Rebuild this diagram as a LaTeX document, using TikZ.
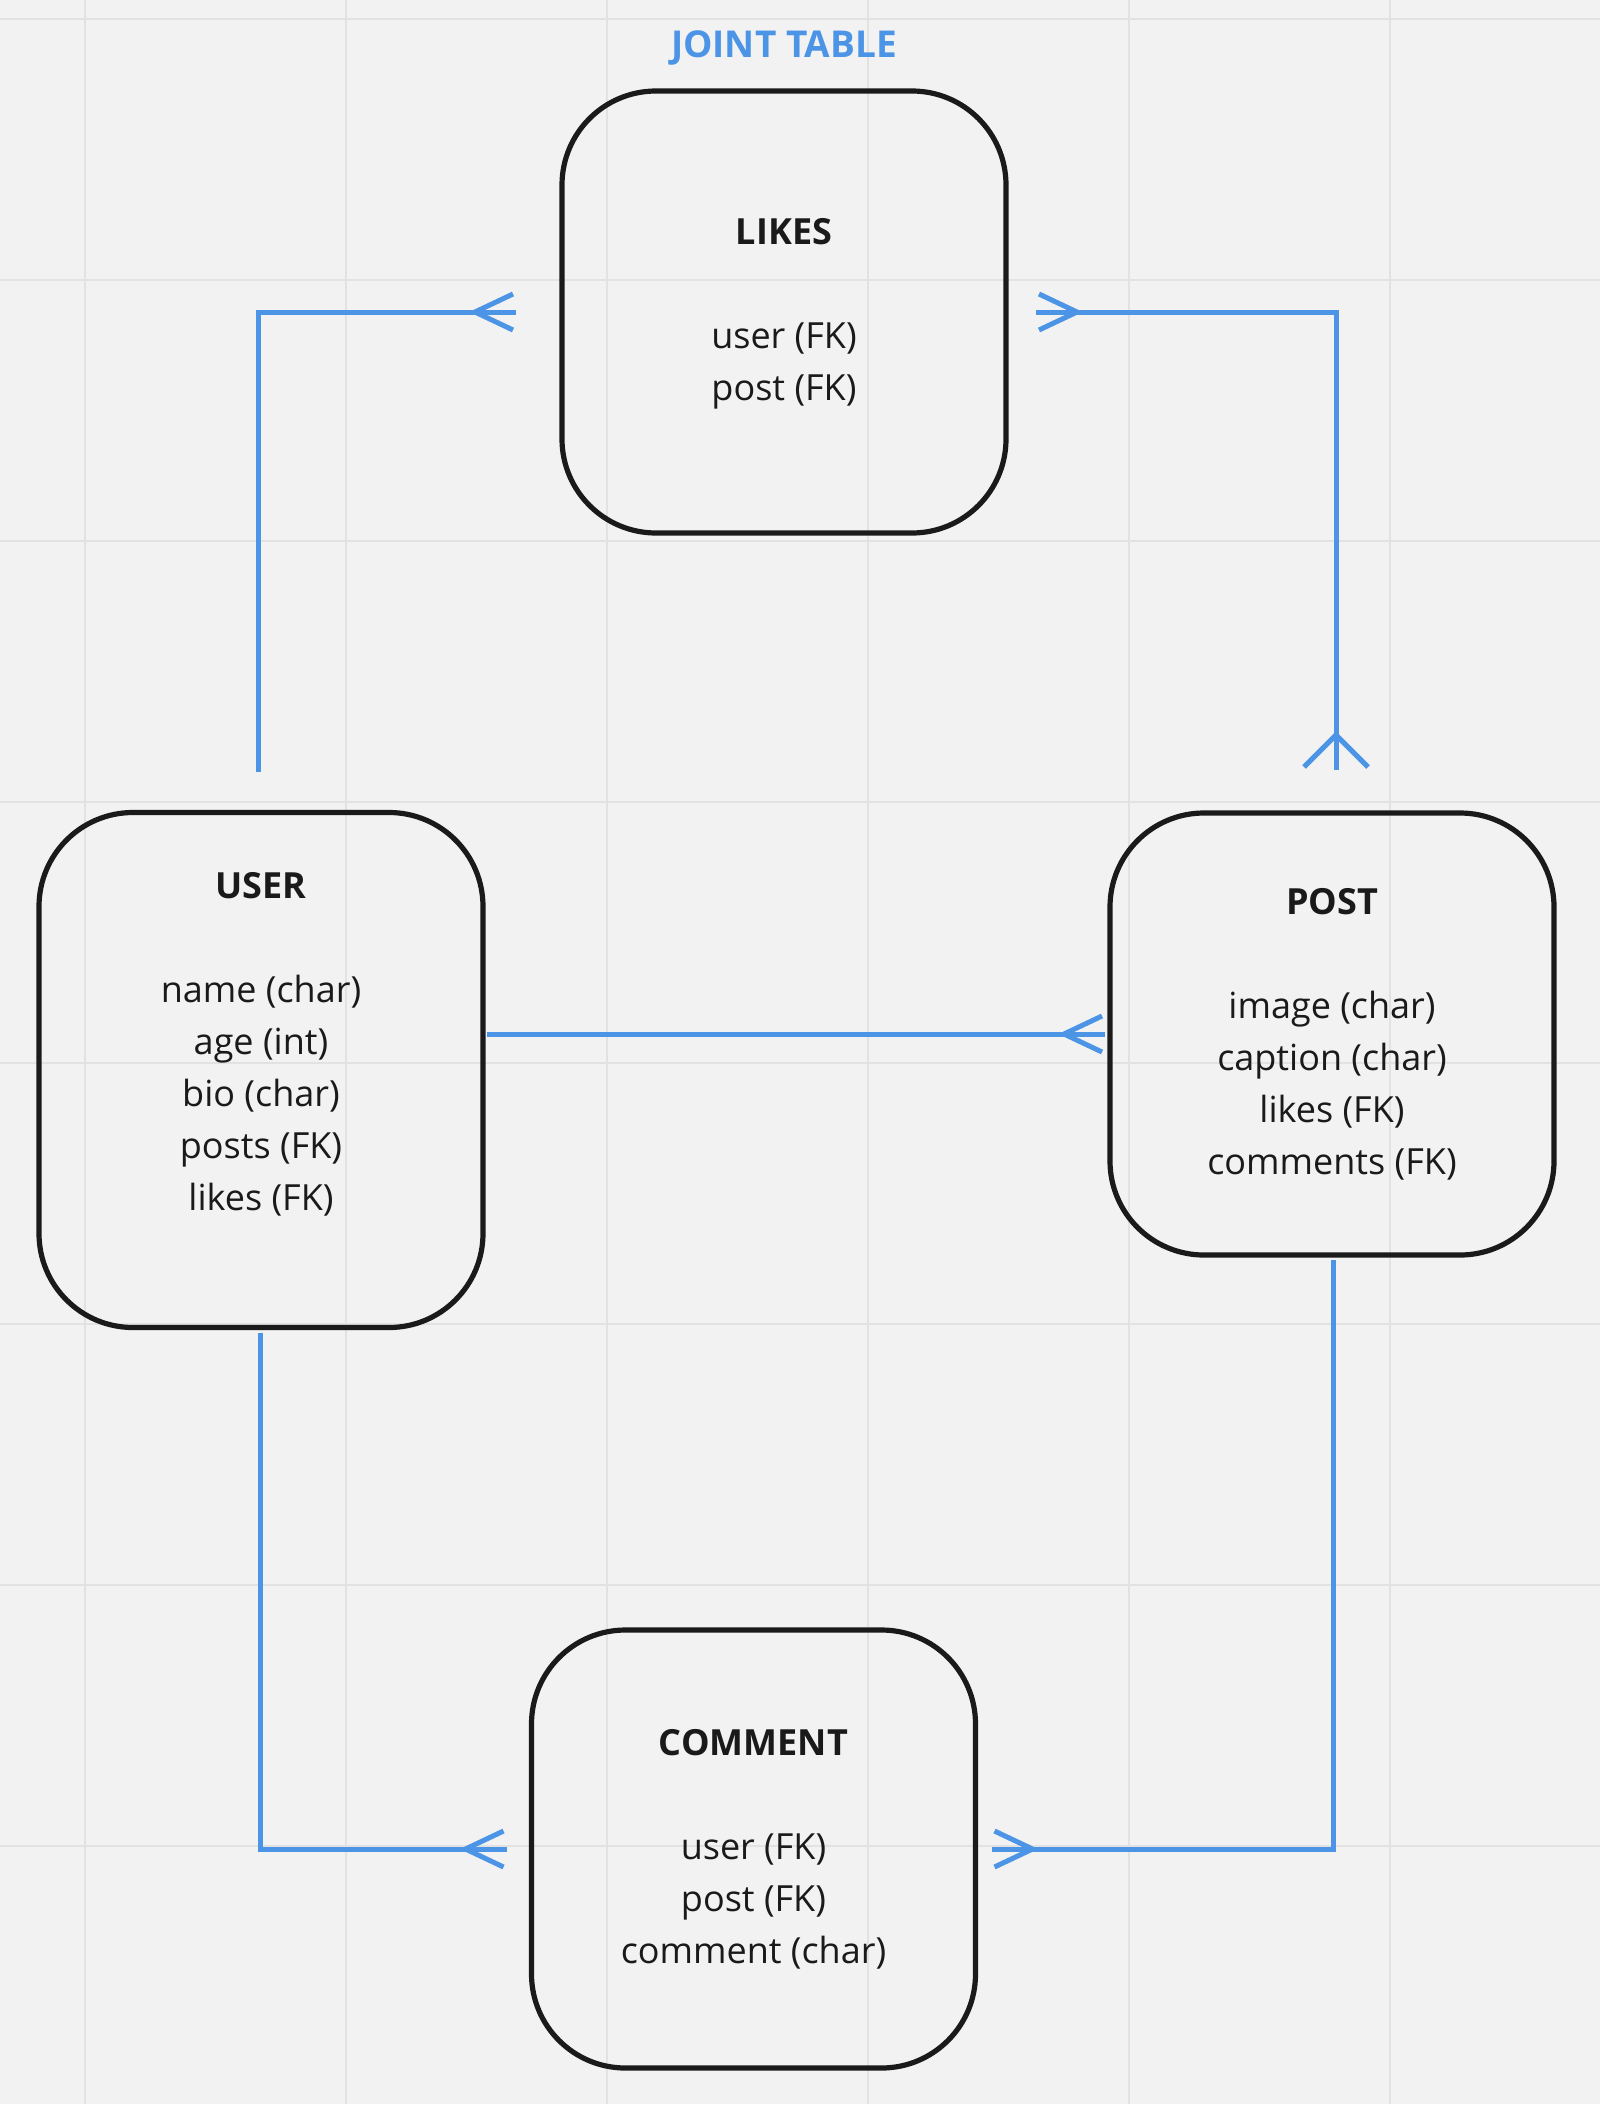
\documentclass[tikz,border=0pt]{standalone}
\usepackage{fontspec}
\setmainfont{Open Sans}
\usepackage{xcolor}
\usetikzlibrary{positioning, calc, decorations.markings}
\definecolor{erBlue}{HTML}{4C94E6}
\definecolor{erInk}{HTML}{1A1A1A}
\definecolor{erPaper}{HTML}{F2F2F2}
\definecolor{erGrid}{HTML}{E2E2E2}
\tikzstyle{entity} = [rectangle, rounded corners=47pt, minimum width=222pt, minimum height=221pt, outer sep=0pt, align=center, draw=erInk, line width=2.6pt, text=erInk, font=\fontsize{18}{26}\selectfont]
\tikzstyle{tablelabel} = [text=erBlue, font=\bfseries\fontsize{18.5}{22}\selectfont]
\tikzstyle{link} = [draw=erBlue, line width=2.5pt]
\tikzstyle{manyend} = [postaction={decorate, decoration={markings, mark=at position 1 with {\draw[link] (-20.5pt,0pt) -- (-1.5pt,9pt) (-20.5pt,0pt) -- (-1.5pt,-9pt);}}}]
\tikzstyle{manystart} = [postaction={decorate, decoration={markings, mark=at position 0 with {\draw[link] (17.5pt,0pt) -- (1.5pt,16pt) (17.5pt,0pt) -- (1.5pt,-16pt);}}}]
\tikzstyle{gridline} = [draw=erGrid, line width=1pt]
\begin{document}
\begin{tikzpicture}[x=0.5pt, y=-0.5pt, node distance=380pt]

% canvas and grid
\fill[erPaper] (0,0) rectangle (1600,2104);
\useasboundingbox (0,0) rectangle (1600,2104);
\foreach \gx in {0,...,5} \draw[gridline] ({84.6+261*\gx},0) -- ++(0,2104);
\foreach \gy in {0,...,7} \draw[gridline] (0,{18.8+261*\gy}) -- ++(1600,0);

\node (likes) [entity, text depth=3pt] at (784,312) {\textbf{LIKES}\\[26pt] user (FK)\\ post (FK)};
\node (jointlabel) [tablelabel, above of=likes, node distance=132pt] {JOINT TABLE};
\node (user) [entity, below of=likes, node distance=379pt, xshift=-261.5pt, minimum height=257.5pt, text depth=29pt] {\textbf{USER}\\[26pt] name (char)\\ age (int)\\ bio (char)\\ posts (FK)\\ likes (FK)};
\node (post) [entity, right of=user, node distance=535.5pt, yshift=18pt] {\textbf{POST}\\[26pt] image (char)\\ caption (char)\\ likes (FK)\\ comments (FK)};
\node (comment) [entity, below of=likes, node distance=768.5pt, xshift=-15.25pt, minimum height=219pt] {\textbf{COMMENT}\\[26pt] user (FK)\\ post (FK)\\ comment (char)};

% loose ends of the relations
\coordinate (userN) at ([xshift=-1.5pt, yshift=20.25pt]user.north);
\coordinate (likesW) at ([xshift=-23pt]likes.west);
\coordinate (postN) at ([xshift=2pt, yshift=21.5pt]post.north);
\coordinate (likesE) at ([xshift=15pt]likes.east);
\coordinate (userE) at ([xshift=2pt, yshift=18pt]user.east);
\coordinate (postW) at ([xshift=-2.5pt]post.west);
\coordinate (userS) at ([xshift=-0.5pt, yshift=-2.5pt]user.south);
\coordinate (commentW) at ([xshift=-12.5pt]comment.west);
\coordinate (postS) at ([xshift=0.5pt, yshift=-2.5pt]post.south);
\coordinate (commentE) at ([xshift=8pt]comment.east);

\draw [link, manyend] (userN) |- (likesW);
\draw [link, manystart, manyend] (postN) |- (likesE);
\draw [link, manyend] (userE) -- (postW);
\draw [link, manyend] (userS) |- (commentW);
\draw [link, manyend] (postS) |- (commentE);

\end{tikzpicture}
\end{document}
